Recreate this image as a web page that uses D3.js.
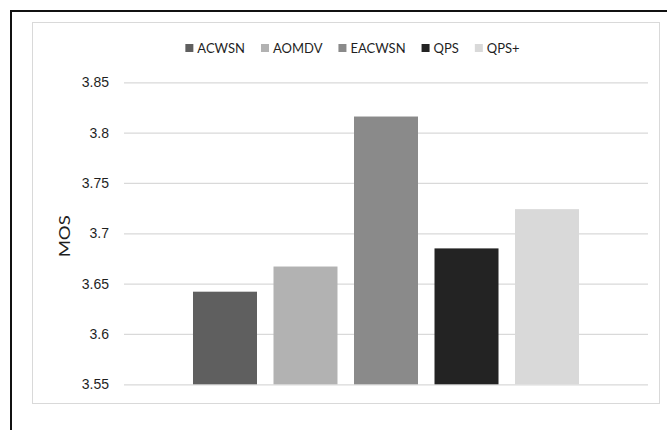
<!DOCTYPE html>
<html>
<head>
<meta charset="utf-8">
<script src="https://cdn.jsdelivr.net/npm/d3@7"></script>
<style>
  html, body { margin: 0; padding: 0; background: #ffffff; }
  svg { display: block; font-family: Lato, "Open Sans", sans-serif; }
</style>
</head>
<body>
<svg id="chart" width="667" height="430"></svg>
<script>
// Mean opinion score per routing protocol
const series = ["ACWSN", "AOMDV", "EACWSN", "QPS", "QPS+"];
const mosValues = [3.642, 3.667, 3.816, 3.685, 3.724];
const seriesColors = ["#5f5f5f", "#b2b2b2", "#8a8a8a", "#232323", "#d9d9d9"];
const yTicks = [3.55, 3.6, 3.65, 3.7, 3.75, 3.8, 3.85];
const yLabel = "MOS";

const svg = d3.select("#chart");

// Outer frame (top and left edges visible)
svg.append("line").attr("x1", 10).attr("x2", 667).attr("y1", 11).attr("y2", 11)
  .attr("stroke", "#111").attr("stroke-width", 2);
svg.append("line").attr("x1", 11).attr("x2", 11).attr("y1", 10).attr("y2", 430)
  .attr("stroke", "#111").attr("stroke-width", 2);

// Chart area border
svg.append("rect").attr("x", 32.5).attr("y", 22.5).attr("width", 627).attr("height", 381)
  .attr("fill", "#ffffff").attr("stroke", "#d9d9d9").attr("stroke-width", 1);

const plot = { left: 124, right: 648, top: 82.3, bottom: 384.3 };

const y = d3.scaleLinear().domain([3.55, 3.85]).range([plot.bottom, plot.top]);
const x = d3.scaleBand().domain(series).range([plot.left, plot.right])
  .paddingInner(0.205).paddingOuter(0.857);

// Gridlines and tick labels
const yAxis = d3.axisLeft(y)
  .tickValues(yTicks)
  .tickSize(-(plot.right - plot.left))
  .tickPadding(15)
  .tickFormat(d => String(+d.toFixed(2)));

const gy = svg.append("g")
  .attr("transform", `translate(${plot.left},0)`)
  .call(yAxis);
gy.select(".domain").remove();
gy.selectAll(".tick line").attr("stroke", "#d9d9d9").attr("stroke-width", 1.3);
gy.selectAll(".tick text")
  .attr("fill", "#1f1f1f")
  .style("font-size", "14px");

// Bars
svg.append("g").selectAll("rect")
  .data(series)
  .join("rect")
  .attr("x", d => x(d))
  .attr("width", x.bandwidth())
  .attr("y", (d, i) => y(mosValues[i]))
  .attr("height", (d, i) => y(3.55) - y(mosValues[i]))
  .attr("fill", (d, i) => seriesColors[i]);

// Axis title
svg.append("text")
  .attr("transform", `translate(69.5,${(plot.top + plot.bottom) / 2 + 3}) rotate(-90)`)
  .attr("text-anchor", "middle")
  .attr("fill", "#1f1f1f")
  .attr("textLength", 42)
  .attr("lengthAdjust", "spacingAndGlyphs")
  .style("font-size", "15.5px")
  .text(yLabel);

// Legend, laid out left to right and centred above the plot
const legend = svg.append("g");
const items = legend.selectAll("g")
  .data(series)
  .join("g");
items.append("rect")
  .attr("width", 8).attr("height", 8)
  .attr("y", -4)
  .attr("fill", (d, i) => seriesColors[i]);
items.append("text")
  .attr("x", 12)
  .attr("dy", "0.36em")
  .attr("fill", "#1f1f1f")
  .style("font-size", "13px")
  .text(d => d);

let cursor = 0;
items.each(function () {
  const g = d3.select(this);
  g.attr("transform", `translate(${cursor},0)`);
  const w = g.select("text").node().getComputedTextLength();
  cursor += 12 + w + 16;
});
const legendWidth = cursor - 16;
legend.attr("transform", `translate(${352.5 - legendWidth / 2},48)`);
</script>
</body>
</html>
